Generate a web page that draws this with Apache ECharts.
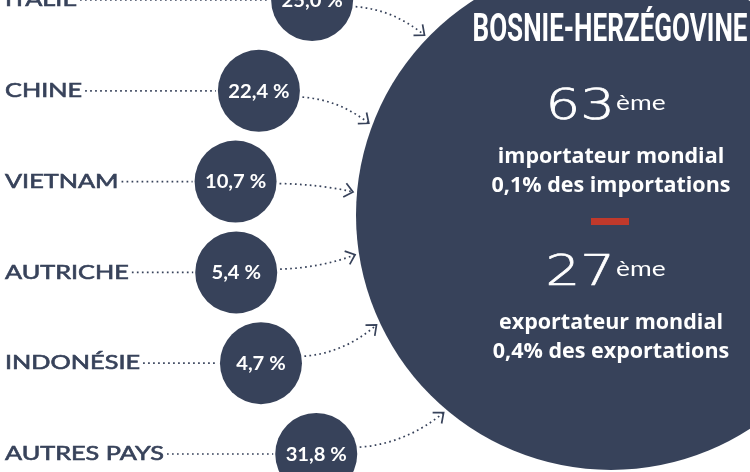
<!DOCTYPE html>
<html>
<head>
<meta charset="utf-8">
<script src="https://cdn.jsdelivr.net/npm/echarts@6/dist/echarts.min.js"></script>
<style>
html, body { margin: 0; padding: 0; background: #fff; }
#main { width: 750px; height: 472px; }
</style>
</head>
<body>
<div id="main"></div>
<script>
// fournisseurs de la Bosnie-Herzégovine (part des importations, %)
const countries = ['ITALIE', 'CHINE', 'VIETNAM', 'AUTRICHE', 'INDONÉSIE', 'AUTRES PAYS'];
const shares = [25.0, 22.4, 10.7, 5.4, 4.7, 31.8];

const countryName = 'BOSNIE-HERZÉGOVINE';
const importRank = 63;
const importShare = 0.1;
const exportRank = 27;
const exportShare = 0.4;

const navy = '#37425a';
const red = '#c0392b';

// grand cercle (pays) et arc sur lequel sont posées les bulles
const big = { x: 611, y: 215, r: 255 };
const arc = { x: 591, y: 224.5, r: 358 };
const bubbleR = 41;

const measureCtx = document.createElement('canvas').getContext('2d');
function textWidth(str, font) {
  measureCtx.font = font;
  return measureCtx.measureText(str).width;
}
function fr(v) {
  return v.toFixed(1).replace('.', ',');
}

const labelFont = '19px Lato';
const labelScale = 1.33;
const titleFont = 'bold 38px Roboto';
const titleScale = 275 / textWidth(countryName, titleFont);
const bodyFont = 'bold 21.5px "Open Sans"';
const rankFont = '200 42px "DejaVu Sans"';
const supFont = '22px Lato';

function renderBubble(params, api) {
  const i = api.value(1);
  const py = api.coord([0, i])[1];
  const px = arc.x - Math.sqrt(arc.r * arc.r - (py - arc.y) * (py - arc.y));
  const name = countries[i];
  const lw = textWidth(name, labelFont) * labelScale;

  // pointe de la flèche sur le bord du grand cercle
  const d = Math.atan2(py - big.y, big.x - px) * 180 / Math.PI;
  const t = d * (1 + 0.00018 * d * d) * Math.PI / 180;
  const tip = [big.x - (big.r + 4) * Math.cos(t), big.y + (big.r + 4) * Math.sin(t)];
  const dir = Math.atan2(tip[1] - py, tip[0] - px);
  const phi = dir * 0.5;
  const start = [px + (bubbleR + 3) * Math.cos(phi), py + (bubbleR + 3) * Math.sin(phi)];
  const cp = [start[0] + 0.55 * (tip[0] - start[0]), start[1] + 0.1 * (tip[1] - start[1])];
  let ux = tip[0] - cp[0], uy = tip[1] - cp[1];
  const ul = Math.sqrt(ux * ux + uy * uy);
  ux /= ul; uy /= ul;
  const head = [40, -40].map(function (a) {
    const ra = a * Math.PI / 180;
    const rx = ux * Math.cos(ra) - uy * Math.sin(ra);
    const ry = ux * Math.sin(ra) + uy * Math.cos(ra);
    return [tip[0] - 11 * rx, tip[1] - 11 * ry];
  });

  const dotted = { stroke: navy, lineWidth: 1.7, lineDash: [1.7, 3.3], fill: null };

  return {
    type: 'group',
    children: [
      {
        type: 'text',
        x: 5, y: py,
        scaleX: labelScale,
        style: {
          text: name, font: labelFont, fill: navy, stroke: navy, lineWidth: 0.6,
          align: 'left', verticalAlign: 'middle'
        }
      },
      {
        type: 'line',
        shape: { x1: 5 + lw + 3, y1: py, x2: px - bubbleR - 2, y2: py },
        style: dotted
      },
      {
        type: 'bezierCurve',
        shape: { x1: start[0], y1: start[1], x2: tip[0], y2: tip[1], cpx1: cp[0], cpy1: cp[1] },
        style: dotted
      },
      {
        type: 'polyline',
        shape: { points: [head[0], tip, head[1]] },
        style: { stroke: navy, lineWidth: 1.7, fill: null }
      },
      {
        type: 'circle',
        shape: { cx: px, cy: py, r: bubbleR },
        style: { fill: navy }
      },
      {
        type: 'text',
        x: px, y: py + 1,
        scaleX: 1.12,
        style: {
          text: fr(api.value(2)) + ' %', font: 'bold 18px Lato', fill: '#fff',
          align: 'center', verticalAlign: 'middle'
        }
      }
    ]
  };
}

const myChart = echarts.init(document.getElementById('main'));

const rankStyle = { font: rankFont, fill: '#fff', stroke: '#fff', lineWidth: 0.7, align: 'right', verticalAlign: 'middle' };
const supStyle = { font: supFont, fill: '#fff', align: 'left', verticalAlign: 'top' };
const bodyStyle = { font: bodyFont, fill: '#fff', align: 'center', verticalAlign: 'middle' };

const option = {
  animation: false,
  backgroundColor: '#fff',
  grid: { left: 0, right: 0, top: -5, bottom: 18 },
  xAxis: { type: 'value', min: 0, max: 750, show: false },
  yAxis: { type: 'category', data: countries, inverse: true, boundaryGap: false, show: false },
  graphic: [
    { type: 'circle', z: -1, shape: { cx: big.x, cy: big.y, r: big.r }, style: { fill: navy } },
    {
      type: 'text', x: 610, y: 31, scaleX: titleScale,
      style: { text: countryName, font: titleFont, fill: '#fff', align: 'center', verticalAlign: 'middle' }
    },
    { type: 'text', x: 615, y: 108, scaleX: 1.3, style: Object.assign({ text: String(importRank) }, rankStyle) },
    { type: 'text', x: 616, y: 92, scaleX: 1.2, style: Object.assign({ text: 'ème' }, supStyle) },
    { type: 'text', x: big.x, y: 157, style: Object.assign({ text: 'importateur mondial' }, bodyStyle) },
    { type: 'text', x: big.x, y: 186, style: Object.assign({ text: fr(importShare) + '% des importations' }, bodyStyle) },
    { type: 'rect', shape: { x: 591, y: 218, width: 38, height: 7 }, style: { fill: red } },
    { type: 'text', x: 615, y: 274, scaleX: 1.3, style: Object.assign({ text: String(exportRank) }, rankStyle) },
    { type: 'text', x: 616, y: 258, scaleX: 1.2, style: Object.assign({ text: 'ème' }, supStyle) },
    { type: 'text', x: big.x, y: 323, style: Object.assign({ text: 'exportateur mondial' }, bodyStyle) },
    { type: 'text', x: big.x, y: 352, style: Object.assign({ text: fr(exportShare) + '% des exportations' }, bodyStyle) }
  ],
  series: [
    {
      type: 'custom',
      coordinateSystem: 'cartesian2d',
      renderItem: renderBubble,
      data: countries.map(function (c, i) { return [0, i, shares[i]]; }),
      z: 2
    }
  ]
};

myChart.setOption(option);
</script>
</body>
</html>
